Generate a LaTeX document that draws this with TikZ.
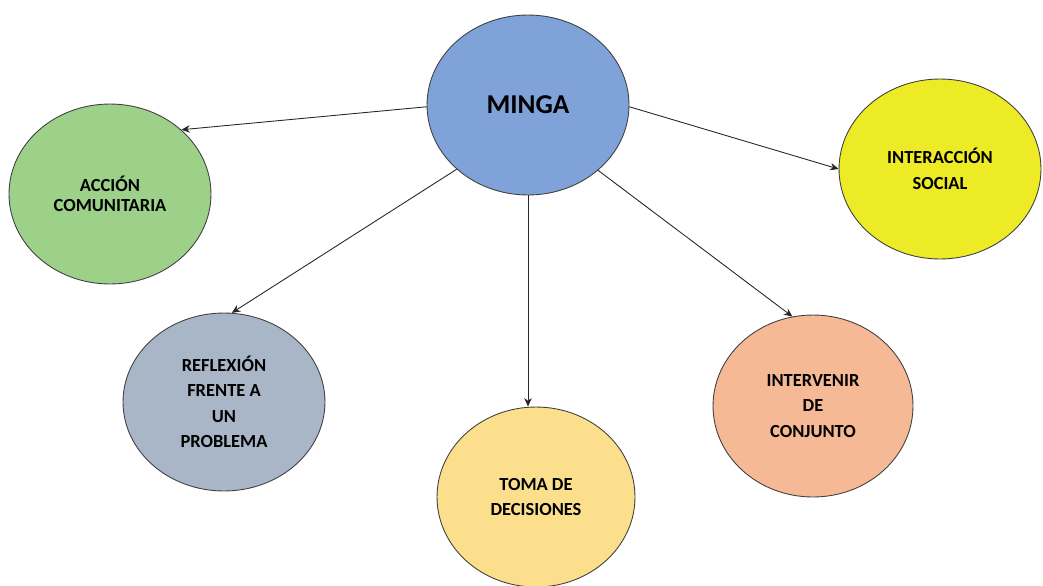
\documentclass[tikz,border=0pt]{standalone}
\usepackage{fontspec}
\setmainfont{Carlito}
\usepackage{xcolor}
\usetikzlibrary{shapes.geometric,arrows.meta,positioning}

\definecolor{mingablue}{HTML}{7FA2D9}
\definecolor{accgreen}{HTML}{9DD18A}
\definecolor{socyellow}{HTML}{EDEA26}
\definecolor{refgray}{HTML}{A9B6C8}
\definecolor{tomaocre}{HTML}{FCDF8C}
\definecolor{intpeach}{HTML}{F5B995}

\begin{document}
\begin{tikzpicture}[
  x=0.02cm, y=-0.02cm,
  concept/.style={ellipse, draw=black!75, line width=0.5pt, inner sep=0pt,
    minimum width=4.04cm, minimum height=3.6cm, align=center,
    font=\fontsize{10.5}{14.5}\selectfont\bfseries},
  main/.style={concept, font=\fontsize{15.5}{17}\selectfont\bfseries},
  arrow/.style={-{Stealth[length=1.7mm, width=1.5mm]}, line width=0.5pt, black!85},
]
  \useasboundingbox (0,0) rectangle (1043,585);

  % Central idea
  \node[main, fill=mingablue] (minga) at (528,105) {MINGA};

  % Surrounding ideas
  \node[concept, fill=accgreen, font=\fontsize{10.5}{11.5}\selectfont\bfseries]
    (accion) at (110,194) {ACCIÓN\\COMUNITARIA};
  \node[concept, fill=socyellow] (social) at (940,169) {INTERACCIÓN\\SOCIAL};
  \node[concept, fill=refgray, minimum height=3.56cm] (reflexion) at (224,402)
    {REFLEXIÓN\\FRENTE A\\UN\\PROBLEMA};
  \node[concept, fill=tomaocre, minimum width=3.96cm] (toma) at (536,497)
    {TOMA DE\hspace{0.32cm}\\DECISIONES\hspace{0.32cm}};
  \node[concept, fill=intpeach, minimum width=4cm, minimum height=3.64cm] (intervenir)
    at (813,406) {INTERVENIR\\DE\\CONJUNTO};

  % Arrows
  \draw[arrow] (minga.181) -- (accion.42);
  \draw[arrow] (minga.-1) -- (social.west);
  \draw[arrow] (minga.222) -- (reflexion.85);
  \draw[arrow] (minga.south) -- (toma.north -| minga.south);
  \draw[arrow] (minga.-43) -- (intervenir.103);
\end{tikzpicture}
\end{document}
